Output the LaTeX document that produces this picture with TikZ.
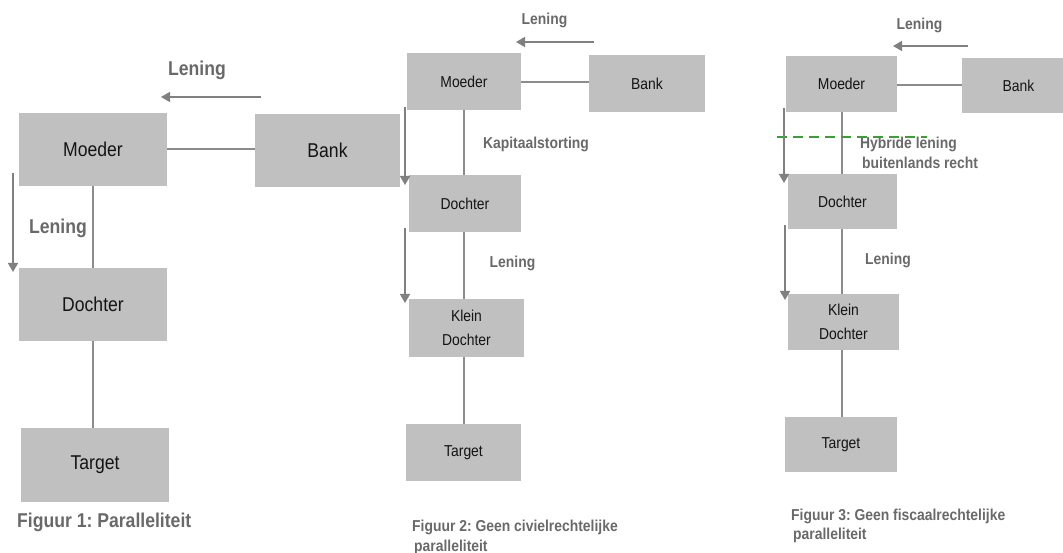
\documentclass[tikz,border=0pt]{standalone}
\usepackage{fontspec}
\setmainfont{Liberation Sans}[FakeStretch=0.88]
\frenchspacing
\usetikzlibrary{arrows.meta}
\definecolor{boxgray}{RGB}{192,192,192}
\definecolor{linegray}{RGB}{140,140,140}
\definecolor{arrowgray}{RGB}{128,128,128}
\definecolor{labelgray}{RGB}{105,105,105}
\definecolor{boxtext}{RGB}{20,20,20}
\definecolor{hybridgreen}{RGB}{55,160,55}
\tikzset{
  entity/.style={fill=boxgray, draw=none, inner sep=0pt, text=boxtext, align=center},
  bigbox/.style={entity, font=\fontsize{20}{24}\selectfont},
  smallbox/.style={entity, font=\fontsize{15.8}{23.5}\selectfont},
  link/.style={draw=linegray, line width=1.6pt},
  flow/.style={draw=arrowgray, line width=1.6pt, -{Triangle[length=9pt,width=10pt]}},
  biglabel/.style={text=labelgray, font=\bfseries\fontsize{20}{24}\selectfont, inner sep=0pt},
  smalllabel/.style={text=labelgray, font=\bfseries\fontsize{15.8}{19}\selectfont, inner sep=0pt},
  caption/.style={text=labelgray, font=\bfseries\fontsize{15.8}{20}\selectfont, inner sep=0pt, anchor=west},
}
\begin{document}
\begin{tikzpicture}[x=1pt, y=-1pt]
\useasboundingbox (0,0) rectangle (1063,553);
\clip (0,0) rectangle (1063,553);

% ---------- Figuur 1 ----------
\node[bigbox, minimum width=148pt, minimum height=73pt] (m1) at (93,149.5) {Moeder};
\node[bigbox, minimum width=145pt, minimum height=73pt] (b1) at (327.5,150.5) {Bank};
\node[bigbox, minimum width=148pt, minimum height=73pt] (d1) at (93,304.5) {Dochter};
\node[bigbox, minimum width=148pt, minimum height=74pt] (t1) at (95,465) {Target};
\draw[link] (m1.east |- 0,149) -- (b1.west |- 0,149);
\draw[link] (m1.south) -- (d1.north);
\draw[link] (d1.south) -- (d1.south |- t1.north);

\coordinate (f1a) at (261,97);
\coordinate (f1b) at (161,97);
\draw[flow] (f1a) -- (f1b);
\node[biglabel] (l1a) at (197,70) {Lening};
\coordinate (f1c) at (13,173);
\coordinate (f1d) at (13,272);
\draw[flow] (f1c) -- (f1d);
\node[biglabel] (l1b) at (58,228) {Lening};
\node[caption, font=\bfseries\fontsize{20}{24}\selectfont] (c1) at (17,522) {Figuur 1: Paralleliteit};

% ---------- Figuur 2 ----------
\node[smallbox, minimum width=114pt, minimum height=57pt] (m2) at (464,81.5) {Moeder};
\node[smallbox, minimum width=116pt, minimum height=57pt] (b2) at (647,83.5) {Bank};
\node[smallbox, minimum width=112pt, minimum height=57pt] (d2) at (465,203.5) {Dochter};
\node[smallbox, minimum width=115pt, minimum height=58pt] (k2) at (466.5,328) {Klein\\Dochter};
\node[smallbox, minimum width=115pt, minimum height=57pt] (t2) at (463.5,452.5) {Target};
\draw[link] (m2.east |- 0,82) -- (b2.west |- 0,82);
\draw[link] (464,0 |- m2.south) -- (464,0 |- d2.north);
\draw[link] (464,0 |- d2.south) -- (464,0 |- k2.north);
\draw[link] (464,0 |- k2.south) -- (464,0 |- t2.north);

\coordinate (f2a) at (594,42);
\coordinate (f2b) at (516,42);
\draw[flow] (f2a) -- (f2b);
\node[smalllabel] (l2a) at (544.5,20) {Lening};
\node[smalllabel] (l2b) at (536,144) {Kapitaalstorting};
\coordinate (f2c) at (405,107);
\coordinate (f2d) at (405,185);
\draw[flow] (f2c) -- (f2d);
\coordinate (f2e) at (405,228);
\coordinate (f2f) at (405,303);
\draw[flow] (f2e) -- (f2f);
\node[smalllabel] (l2c) at (512.5,263) {Lening};
\node[caption] (c2a) at (412,527) {Figuur 2: Geen civielrechtelijke};
\node[caption] (c2b) at (414,547) {paralleliteit};

% ---------- Figuur 3 ----------
\node[smallbox, minimum width=111pt, minimum height=56pt] (m3) at (841.5,84) {Moeder};
\node[smallbox, minimum width=113pt, minimum height=55pt] (b3) at (1018.5,85.5) {Bank};
\node[smallbox, minimum width=109pt, minimum height=55pt] (d3) at (842.5,201.5) {Dochter};
\node[smallbox, minimum width=111pt, minimum height=56pt] (k3) at (843.5,322) {Klein\\Dochter};
\node[smallbox, minimum width=112pt, minimum height=55pt] (t3) at (841,444.5) {Target};
\draw[link] (m3.east |- 0,85) -- (b3.west |- 0,85);
\draw[link] (842,0 |- m3.south) -- (842,0 |- d3.north);
\draw[link] (842,0 |- d3.south) -- (842,0 |- k3.north);
\draw[link] (842,0 |- k3.south) -- (842,0 |- t3.north);

\coordinate (f3a) at (968,46);
\coordinate (f3b) at (893,46);
\draw[flow] (f3a) -- (f3b);
\node[smalllabel] (l3a) at (919.5,25) {Lening};
\node[smalllabel, anchor=west] (h3a) at (860,144) {Hybride lening};
\node[smalllabel, anchor=west] (h3b) at (862,163) {buitenlands recht};
\coordinate (g3a) at (777,137);
\coordinate (g3b) at (927,137);
\draw[hybridgreen, line width=2.5pt, dash pattern=on 10pt off 6pt] (g3a) -- (g3b);
\coordinate (f3c) at (784,108);
\coordinate (f3d) at (784,183);
\draw[flow] (f3c) -- (f3d);
\coordinate (f3e) at (785,225);
\coordinate (f3f) at (785,300);
\draw[flow] (f3e) -- (f3f);
\node[smalllabel] (l3b) at (888,260) {Lening};
\node[caption] (c3a) at (791,516) {Figuur 3: Geen fiscaalrechtelijke};
\node[caption] (c3b) at (793,535) {paralleliteit};
\end{tikzpicture}
\end{document}
